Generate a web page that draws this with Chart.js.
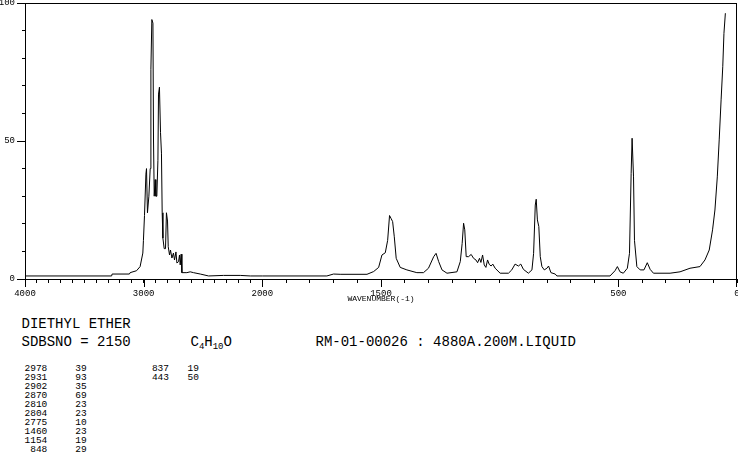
<!DOCTYPE html>
<html>
<head>
<meta charset="utf-8">
<script src="https://cdn.jsdelivr.net/npm/chart.js@4.4.0/dist/chart.umd.min.js"></script>
<style>
body{margin:0;background:#fff;width:738px;height:457px;overflow:hidden;position:relative;font-family:"Liberation Mono",monospace;color:#000}
#myChart{position:absolute;left:0;top:0}
.t{position:absolute;white-space:pre;font-size:14px;line-height:14px}
.t sub{font-size:9px;vertical-align:-3px;line-height:0}
.pk{position:absolute;white-space:pre;font-size:9.5px;line-height:9px;text-align:right}
</style>
</head>
<body>
<canvas id="myChart" width="738" height="310"></canvas>
<div class="t" style="left:21.5px;top:317px">DIETHYL ETHER</div>
<div class="t" style="left:21.5px;top:335px">SDBSNO = 2150</div>
<div class="t" style="left:190.5px;top:335px">C<sub>4</sub>H<sub>10</sub>O</div>
<div class="t" style="left:315.5px;top:335px">RM-01-00026 : 4880A.200M.LIQUID</div>
<div id="peaks"></div>
<script>
// raman spectrum, wavenumber (cm-1) / relative intensity
let wavenumbers = [4000,3270,3266,3120,3114,3060,3030,3007,3002,2993,2981,2976,2968,2956,2945,2939,2931,2922,2917,2911,2903,2897,2889,2880,2875,2867,2858,2850,2844,2838,2827,2816,2808,2799,2793,2782,2774,2762,2749,2740,2728,2720,2706,2698,2692,2684,2678,2636,2608,2580,2523,2453,2327,2186,2101,2000,
  1728,1700,1672,1559,1531,1510,1496,1482,1472,1464,1458,1451,1444,1436,1419,1391,1349,1321,1300,1278,1268,1257,1243,1222,1180,1166,1158,1152,1147,1141,1131,1120,1110,1100,1093,1085,1079,1072,1065,1058,1051,1044,1036,1029,1019,998,963,949,935,921,911,900,879,864,857,850,846,841,835,829,822,812,801,794,784,766,759,
  535,514,504,493,479,462,453,446,442,436,432,422,408,392,378,366,352,282,240,198,156,135,117,103,93,83,75,67,60,55,49];
let intensity = [1.1,1.1,1.8,1.8,2.3,3.0,4.5,9.4,14,23,38,40,24,30,40,76,94,92.7,50,30,36,30,30,43,67,69.5,53,45.6,24,14.8,11,11,24,21,11.7,8.7,10.5,7.6,9.4,6.9,9.8,5.8,6.3,8.7,5.1,9,2.3,2.3,2.6,2.3,1.8,1.1,1.3,1.3,1.1,1.1,
  1.1,1.8,1.7,1.7,2.7,4.2,8.7,9.5,14,23,22,20.8,15.3,7.5,4.2,3.3,2.3,2.3,3.9,8.1,9.3,6.3,3.3,2.1,2.6,6.3,12.9,20.2,17.8,8.1,8.1,8.9,7.5,6.9,5.9,7.5,6.0,8.7,5.1,4.2,6.9,5.3,4.7,5.4,3.9,2.1,2.1,3.3,5.4,4.7,5.4,3.5,2.1,3.3,9.3,26.8,28.9,21.4,19,8.1,4.5,3.3,3.9,4.7,2.3,1.8,1.1,
  1.1,3,4.5,2.6,2.1,3.9,9.3,38.3,51,37,14,4.5,3.3,3.3,5.9,3.5,2.1,2.1,2.6,3.9,4.5,6.9,10.5,17.8,25,37,50.4,64.9,76.9,89,96.3];

// peak table printed under the chart
let peakWn = [2978,2931,2902,2870,2810,2804,2775,1460,1154,848,837,443];
let peakInt = [39,93,35,69,23,23,10,23,19,29,19,50];

let xLabels = [4000,3000,2000,1500,500,0];
let yLabels = [0,50,100];
let xMax = 4000;
let xSplit = 2000;

// the wavenumber axis is compressed 2x above 2000
class WavenumberScale extends Chart.LinearScale {
  static id = 'wavenumber';
  getPixelForValue(v){
    let f = v >= xSplit ? (xMax - v) / (3 * (xMax - xSplit)) : 1/3 + (xSplit - v) / (1.5 * xSplit);
    return this.left + f * this.width;
  }
  getValueForPixel(p){
    let f = (p - this.left) / this.width;
    return f <= 1/3 ? xMax - f * 3 * (xMax - xSplit) : xSplit - (f - 1/3) * 1.5 * xSplit;
  }
}
Chart.register(WavenumberScale);

const frame = {
  id: 'frame',
  afterDraw(chart){
    const {ctx, chartArea: a, scales} = chart;
    ctx.save();
    ctx.strokeStyle = '#000';
    ctx.lineWidth = 1;
    ctx.beginPath();
    ctx.moveTo(a.left, a.top + 0.5); ctx.lineTo(a.right, a.top + 0.5);
    ctx.moveTo(a.right - 0.5, a.top); ctx.lineTo(a.right - 0.5, a.bottom);
    xLabels.forEach(v => {
      let px = Math.round(scales.x.getPixelForValue(v)) + 0.5;
      if(px > a.right) px = a.right - 0.5;
      ctx.moveTo(px, a.bottom); ctx.lineTo(px, a.bottom + 8);
    });
    yLabels.forEach(v => {
      let py = Math.round(scales.y.getPixelForValue(v)) + 0.5;
      ctx.moveTo(a.left - 8, py); ctx.lineTo(a.left, py);
    });
    ctx.stroke();
    ctx.restore();
  }
};

const tickFont = {family: 'Liberation Mono', size: 9};

new Chart(document.getElementById('myChart'), {
  type: 'line',
  data: {
    datasets: [{
      data: wavenumbers.map((w, i) => ({x: w, y: intensity[i]})),
      borderColor: '#000',
      borderWidth: 1,
      pointRadius: 0,
      tension: 0,
      fill: false
    }]
  },
  options: {
    responsive: false,
    animation: false,
    layout: {padding: {top: 3, right: 1, left: 0, bottom: 0}},
    plugins: {legend: {display: false}, tooltip: {enabled: false}},
    scales: {
      x: {
        type: 'wavenumber',
        min: 0,
        max: xMax,
        border: {color: '#000', width: 1},
        grid: {drawOnChartArea: false, tickLength: 4, color: '#000', tickColor: '#000'},
        ticks: {
          stepSize: 100, autoSkip: false, maxRotation: 0, padding: 5, color: '#000', font: tickFont,
          callback: v => xLabels.includes(v) ? String(v) : ''
        },
        title: {display: true, text: 'WAVENUMBER(-1)', color: '#000', font: {family: 'Liberation Mono', size: 8}, padding: {top: 0, bottom: 6}},
        afterFit(s){ s.height = 31; s.paddingLeft = 0; s.paddingRight = 0; }
      },
      y: {
        min: 0,
        max: 100,
        border: {color: '#000', width: 1},
        grid: {drawOnChartArea: false, tickLength: 3, color: '#000', tickColor: '#000'},
        ticks: {
          stepSize: 10, autoSkip: false, padding: 7, color: '#000', font: tickFont,
          callback: v => yLabels.includes(v) ? String(v) : ''
        },
        afterFit(s){ s.width = 25; s.paddingTop = 0; s.paddingBottom = 0; }
      }
    }
  },
  plugins: [frame]
});

// peak list, two column groups
let box = document.getElementById('peaks');
peakWn.forEach((w, i) => {
  let col = Math.floor(i / 10), row = i % 10;
  let top = 363.5 + row * 9.1;
  let wnRight = col ? 169 : 47.3;
  let intRight = col ? 199 : 86.6;
  box.innerHTML += `<div class="pk" style="left:${wnRight - 40}px;width:40px;top:${top}px">${w}</div>`
    + `<div class="pk" style="left:${intRight - 30}px;width:30px;top:${top}px">${peakInt[i]}</div>`;
});
</script>
</body>
</html>
